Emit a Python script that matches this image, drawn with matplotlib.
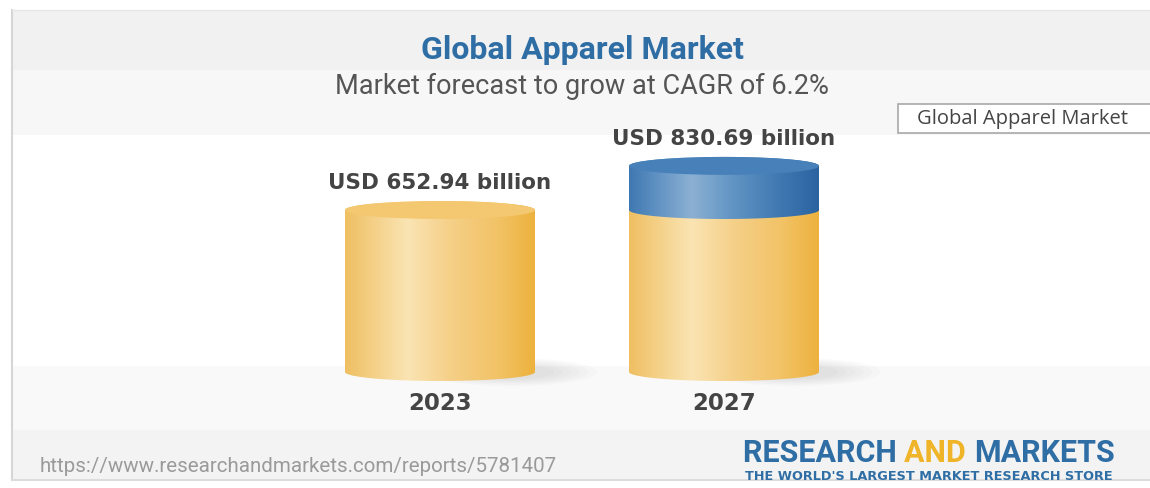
import numpy as np
import matplotlib
matplotlib.use("Agg")
import matplotlib.pyplot as plt
from matplotlib.patches import Rectangle, PathPatch, Ellipse
from matplotlib.path import Path
from matplotlib.colors import LinearSegmentedColormap

# data
years = ["2023", "2027"]
base_values = [652.94, 652.94]
values = [652.94, 830.69]
title = "Global Apparel Market"
subtitle = "Market forecast to grow at CAGR of 6.2%"
legend_label = "Global Apparel Market"
source_url = "https://www.researchandmarkets.com/reports/5781407"

W, H = 1150, 488
fig = plt.figure(figsize=(W / 100, H / 100), dpi=100)

# background panel, pixel coords
bg = fig.add_axes([0, 0, 1, 1])
bg.set_xlim(0, W)
bg.set_ylim(H, 0)
bg.axis("off")
bands = [(10, 70, "#f1f1f1"), (70, 135, "#f7f7f7"), (135, 366, "#ffffff"),
         (366, 430, "#f9f9f9"), (430, 480, "#f3f3f3")]
for y0, y1, c in bands:
    bg.add_patch(Rectangle((12, y0), W - 12, y1 - y0, color=c, lw=0))
bg.plot([12, 12], [10, 480], color="#d6d6d6", lw=1.5)
bg.plot([12, W], [10, 10], color="#e6e6e6", lw=1)
bg.plot([12, W], [480, 480], color="#dcdcdc", lw=1.5)

bg.text(582, 50, title, ha="center", va="center", fontsize=23,
        fontfamily="Roboto", fontweight="bold", color="#2f6ea5")
bg.text(582, 86, subtitle, ha="center", va="center", fontsize=19.5,
        fontfamily="Roboto", color="#555555")

# legend-like box running off the right edge
bg.add_patch(Rectangle((898, 104), 270, 29, fc="white", ec="#a8a8a8", lw=1.2,
                       clip_on=False))
bg.text(917, 119, legend_label, ha="left", va="center", fontsize=14.5,
        fontfamily="Open Sans", color="#444444")
bg.text(40, 467, source_url, ha="left", va="center", fontsize=14.8,
        fontfamily="Roboto", color="#9a9a9a")

# brand logo text
fig.canvas.draw()
rend = fig.canvas.get_renderer()
x = 743
for part, col in [("RESEARCH ", "#2f6ea5"), ("AND ", "#f0b429"), ("MARKETS", "#2f6ea5")]:
    t = bg.text(x, 462, part, ha="left", va="baseline", fontsize=22,
                fontfamily="Roboto", fontweight="bold", color=col)
    ext = t.get_window_extent(rend)
    x += ext.width
bg.text(745, 476, "THE WORLD'S LARGEST MARKET RESEARCH STORE", ha="left",
        va="center", fontsize=9.3, fontfamily="DejaVu Sans", fontweight="bold",
        color="#2f6ea5")

# data axes: y=0 at pixel 372, 0.2481 px per unit
s = 0.2481
px_l, px_r, px_t, px_b = 290, 880, 120, 420
cx0, dx = 440, 284
ax = fig.add_axes([px_l / W, (H - px_b) / H, (px_r - px_l) / W, (px_b - px_t) / H])
ax.set_xlim((px_l - cx0) / dx, (px_r - cx0) / dx)
ax.set_ylim((372 - px_b) / s, (372 - px_t) / s)
ax.axis("off")
ax.patch.set_alpha(0)

hw = 95 / dx
eb = 9 / s

yellow = LinearSegmentedColormap.from_list("y", [
    (0, "#efbf62"), (0.12, "#f3cd80"), (0.33, "#fae4b3"), (0.55, "#f5d089"),
    (0.8, "#f2c367"), (1.0, "#edb23e")])
blue = LinearSegmentedColormap.from_list("b", [
    (0, "#3f78b0"), (0.12, "#5a8dc0"), (0.33, "#8cb0d2"), (0.55, "#6094c4"),
    (0.8, "#3f78b1"), (1.0, "#2a63a0")])
grad = np.linspace(0, 1, 256).reshape(1, -1)


def body(xc, y0, y1, cmap, z):
    t1 = np.linspace(np.pi, 2 * np.pi, 60)
    t2 = np.linspace(0, np.pi, 60)
    xs = np.concatenate([xc + hw * np.cos(t1), xc + hw * np.cos(t2)])
    ys = np.concatenate([y0 + eb * np.sin(t1), y1 + eb * np.sin(t2)])
    verts = np.column_stack([xs, ys])
    patch = PathPatch(Path(np.vstack([verts, verts[:1]]), closed=True),
                      fc="none", ec="none", zorder=z)
    ax.add_patch(patch)
    im = ax.imshow(grad, cmap=cmap, aspect="auto", interpolation="bilinear",
                   extent=(xc - hw, xc + hw, y0 - eb, y1 + eb), zorder=z)
    im.set_clip_path(patch)


for i, (b, v) in enumerate(zip(base_values, values)):
    # soft shadow
    for k in range(6):
        ax.add_patch(Ellipse((i + hw * 0.75, 0), hw * (0.9 + 0.18 * k), eb * (1.6 + 0.3 * k),
                             color="#8a8a8a", alpha=0.035, lw=0, zorder=1))
    body(i, 0, b, yellow, 2)
    if v > b:
        body(i, b, v, blue, 3)
        cap = "#4881b9"
    else:
        cap = "#f4c870"
    ax.add_patch(Ellipse((i, v), 2 * hw, 2 * eb, color=cap, lw=0, zorder=4))
    ax.annotate(f"USD {v:.2f} billion", xy=(i, v), xytext=(0, 27),
                textcoords="offset pixels", ha="center", va="center",
                fontsize=15.5, fontfamily="DejaVu Sans", fontweight="bold",
                color="#444444")
    ax.annotate(years[i], xy=(i, 0), xytext=(0, -32), textcoords="offset pixels",
                ha="center", va="center", fontsize=16.5, fontfamily="DejaVu Sans",
                fontweight="bold", color="#444444")

fig.savefig("out.png", dpi=100)
